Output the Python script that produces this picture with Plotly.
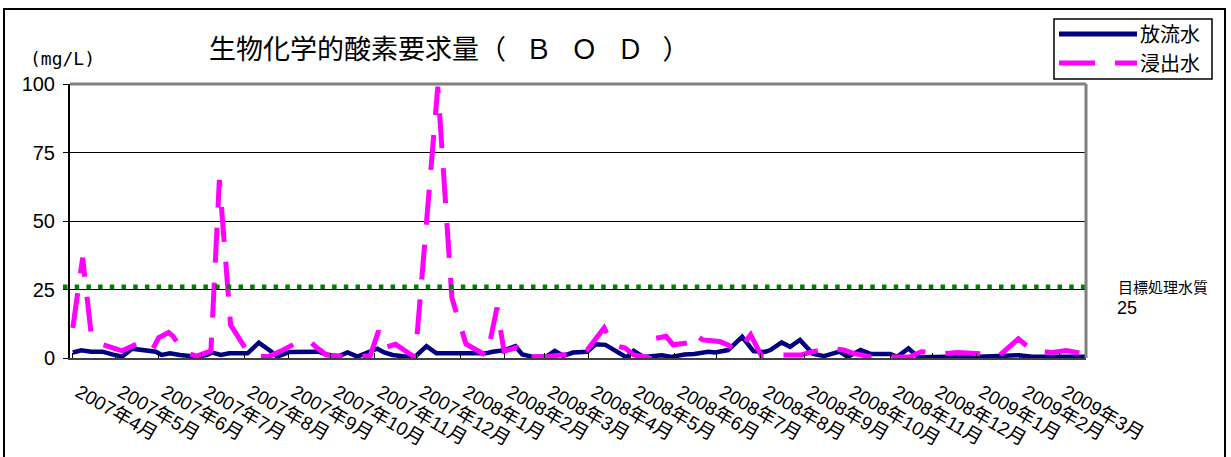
import plotly.graph_objects as go

# ---- data ----
discharge_dates = [
    "2007-04-01", "2007-04-07", "2007-04-14", "2007-04-22", "2007-04-29",
    "2007-05-06", "2007-05-13", "2007-05-23", "2007-05-30",
    "2007-06-03", "2007-06-09", "2007-06-16", "2007-06-21", "2007-06-28",
    "2007-07-05", "2007-07-09", "2007-07-15", "2007-07-21",
    "2007-08-03", "2007-08-11", "2007-08-20", "2007-08-24",
    "2007-09-02", "2007-09-16", "2007-09-22", "2007-09-28",
    "2007-10-06", "2007-10-13", "2007-10-20", "2007-10-27",
    "2007-11-03", "2007-11-08", "2007-11-14", "2007-11-24", "2007-11-30",
    "2007-12-08", "2007-12-15",
    "2008-01-19", "2008-01-24",
    "2008-02-01", "2008-02-09", "2008-02-14", "2008-02-21",
    "2008-03-02", "2008-03-08", "2008-03-14", "2008-03-21", "2008-03-31",
    "2008-04-06", "2008-04-13", "2008-04-19", "2008-04-28",
    "2008-05-03", "2008-05-10", "2008-05-23", "2008-05-30",
    "2008-06-08", "2008-06-15", "2008-06-25", "2008-06-30",
    "2008-07-09", "2008-07-19", "2008-07-27",
    "2008-08-04", "2008-08-08", "2008-08-16", "2008-08-22", "2008-08-29",
    "2008-09-07", "2008-09-15", "2008-09-26",
    "2008-10-02", "2008-10-11", "2008-10-18",
    "2008-11-01", "2008-11-06", "2008-11-14", "2008-11-21",
    "2008-12-13",
    "2009-01-03", "2009-01-31",
    "2009-02-10", "2009-02-25",
    "2009-03-20",
]
discharge_values = [
    2.0, 2.8, 2.3, 2.3, 1.3,
    0.5, 3.4, 2.8, 2.3,
    1.1, 1.7, 1.1, 0.7, 0.5,
    1.1, 2.0, 1.1, 1.7,
    1.7, 5.6, 2.3, 0.5,
    2.2, 2.0, 2.3, 1.3,
    0.5, 2.0, 0.5, 2.0,
    3.4, 2.0, 1.1, 0.5, 0.5,
    4.3, 1.7,
    1.7, 2.3,
    2.8, 4.3, 1.3, 0.5,
    0.5, 2.6, 0.8, 2.0, 2.3,
    5.0, 4.8, 2.9, 0.2,
    2.6, 0.4, 1.0, 0.4,
    1.3, 1.5, 2.3, 2.0,
    2.9, 7.7, 2.5,
    2.2, 2.9, 5.7, 4.1, 6.6,
    1.6, 0.7, 2.3,
    0.4, 2.9, 1.5,
    1.5, 0.4, 3.5, 0.3,
    0.5,
    0.5, 1.0,
    0.5, 0.5,
    0.5,
]

leachate_dates = [
    "2007-04-01", "2007-04-08", "2007-04-14", "2007-04-18",
    "2007-05-06", "2007-05-16", "2007-05-27",
    "2007-06-01", "2007-06-08", "2007-06-11", "2007-06-19", "2007-06-28",
    "2007-07-08", "2007-07-14", "2007-07-22", "2007-07-28",
    "2007-08-04", "2007-08-09", "2007-08-18", "2007-08-27",
    "2007-09-07", "2007-09-16", "2007-09-21", "2007-09-28",
    "2007-10-14", "2007-10-29",
    "2007-11-04", "2007-11-08", "2007-11-16", "2007-11-26", "2007-11-30",
    "2007-12-16", "2007-12-26",
    "2008-01-05", "2008-01-20", "2008-01-27",
    "2008-02-01", "2008-02-10", "2008-02-13",
    "2008-03-02", "2008-03-21", "2008-03-31",
    "2008-04-12", "2008-04-18", "2008-04-27",
    "2008-05-03", "2008-05-14", "2008-05-17", "2008-05-26", "2008-05-31",
    "2008-06-10", "2008-06-14", "2008-06-21",
    "2008-07-03", "2008-07-09", "2008-07-16", "2008-07-25",
    "2008-08-02", "2008-08-11", "2008-08-30",
    "2008-09-07", "2008-09-19", "2008-09-29",
    "2008-10-06", "2008-10-18",
    "2008-11-15", "2008-11-23",
    "2008-12-09", "2008-12-19",
    "2009-01-08", "2009-01-18", "2009-01-31",
    "2009-02-10", "2009-02-24",
    "2009-03-06", "2009-03-20",
]
leachate_values = [
    11.0, 36.6, 8.8, 5.6,
    2.6, 5.0, 2.6,
    7.4, 9.3, 8.0, 2.0, 0.7,
    2.6, 65.0, 12.0, 7.0,
    1.5, 0.7, 0.5, 2.6,
    5.6, 6.2, 3.8, 1.1,
    0.4, 0.8,
    9.9, 3.8, 5.0, 1.5, 0.3,
    99.0, 22.0,
    5.1, 0.7, 18.4,
    2.5, 3.8, 0.5,
    0.5, 1.6, 2.9,
    11.0, 4.8, 3.6,
    1.1, 0.1, 7.0, 7.9, 4.8,
    5.5, 9.2, 6.6,
    6.0, 4.8, 2.3, 8.5,
    0.4, 1.1, 1.1,
    2.3, 3.6, 2.9,
    1.7, 0.4,
    0.4, 2.3,
    1.6, 2.0,
    1.4, 1.1, 7.0,
    2.7, 2.0,
    2.7, 1.4,
]

series_names = ["放流水", "浸出水"]
target_label = "目標処理水質"
target_value_text = "25"
target_line_level = 26  # where the dotted target line sits in the picture
y_ticks = [0, 25, 50, 75, 100]
x_range = ["2007-03-30", "2009-03-20"]

NAVY = "#000080"
PINK = "#FF00FF"
GREEN = "#008000"
CJK = "Noto Sans CJK JP"
LAT = "Liberation Sans, Noto Sans CJK JP"

fig = go.Figure()
fig.add_trace(go.Scatter(x=discharge_dates, y=discharge_values, mode="lines",
                         name=series_names[0], line=dict(color=NAVY, width=4.5),
                         showlegend=False))
fig.add_trace(go.Scatter(x=leachate_dates, y=leachate_values, mode="lines",
                         name=series_names[1],
                         line=dict(color=PINK, width=5, dash="35px,20px"),
                         showlegend=False))

# plot area geometry (px) used to place paper-referenced decorations
W, H = 1231, 457
L, R, T, B = 70, 1086, 84, 358
pw, ph = R - L, B - T


def px(x):
    return (x - L) / pw


def py(y):
    return (B - y) / ph


shapes = [
    # target dotted line
    dict(type="line", xref="paper", yref="y", x0=px(63), x1=1.0,
         y0=target_line_level, y1=target_line_level,
         line=dict(color=GREEN, width=4.5, dash="4.5px,7.2px")),
    # gray top / right plot border
    dict(type="line", xref="paper", yref="paper", x0=0, x1=1, y0=1, y1=1,
         line=dict(color="#808080", width=3)),
    dict(type="line", xref="paper", yref="paper", x0=1, x1=1, y0=0, y1=1,
         line=dict(color="#808080", width=3)),
    # outer chart border
    dict(type="rect", xref="paper", yref="paper", x0=px(4), x1=px(1225),
         y0=py(470), y1=py(9), line=dict(color="black", width=2),
         fillcolor="rgba(0,0,0,0)"),
    # legend box
    dict(type="rect", xref="paper", yref="paper", x0=px(1054), x1=px(1212),
         y0=py(79), y1=py(19), line=dict(color="black", width=1.5),
         fillcolor="white"),
    dict(type="line", xref="paper", yref="paper", x0=px(1059), x1=px(1137),
         y0=py(34), y1=py(34), line=dict(color=NAVY, width=5)),
    dict(type="line", xref="paper", yref="paper", x0=px(1059), x1=px(1137),
         y0=py(63), y1=py(63), line=dict(color=PINK, width=5, dash="36px,20px")),
]

sp = "\u2002\u2009"
annotations = [
    dict(text="生物化学的酸素要求量（" + sp + "Ｂ" + sp + "Ｏ" + sp + "Ｄ" + sp + "）",
         xref="paper", yref="paper",
         x=px(207), y=py(48), xanchor="left", yanchor="middle", showarrow=False,
         font=dict(family=CJK, size=27, color="black")),
    dict(text="(mg/L)", xref="paper", yref="paper", x=px(62), y=py(58),
         xanchor="center", yanchor="middle", showarrow=False,
         font=dict(family="DejaVu Sans Mono", size=18, color="black")),
    dict(text=series_names[0], xref="paper", yref="paper", x=px(1138), y=py(34),
         xanchor="left", yanchor="middle", showarrow=False,
         font=dict(family=CJK, size=20, color="black")),
    dict(text=series_names[1], xref="paper", yref="paper", x=px(1138), y=py(63),
         xanchor="left", yanchor="middle", showarrow=False,
         font=dict(family=CJK, size=20, color="black")),
    dict(text=target_label, xref="paper", yref="paper", x=px(1116), y=py(286),
         xanchor="left", yanchor="middle", showarrow=False,
         font=dict(family=CJK, size=15, color="black")),
    dict(text=target_value_text, xref="paper", yref="paper", x=px(1115), y=py(308),
         xanchor="left", yanchor="middle", showarrow=False,
         font=dict(family=LAT, size=18, color="black")),
]

fig.update_layout(
    width=W, height=H,
    margin=dict(l=L, r=W - R, t=T, b=H - B, pad=0, autoexpand=False),
    paper_bgcolor="white", plot_bgcolor="white",
    showlegend=False,
    shapes=shapes, annotations=annotations,
    xaxis=dict(type="date", range=x_range, tick0="2007-04-01", dtick="M1",
               tickformat="%Y年%-m月", tickangle=30, automargin=False,
               tickfont=dict(family=LAT, size=19, color="black"),
               ticks="inside", ticklen=5, tickcolor="black",
               showgrid=False, zeroline=False,
               showline=True, linecolor="#404040", linewidth=2,
               ticklabelstandoff=14, ticklabelshift=6),
    yaxis=dict(range=[0, 100], tickvals=y_ticks, automargin=False,
               tickfont=dict(family=LAT, size=20, color="black"),
               ticks="outside", ticklen=5, tickcolor="black",
               ticklabelstandoff=4,
               showgrid=True, gridcolor="black", gridwidth=1,
               zeroline=False, showline=True, linecolor="black", linewidth=2),
)

fig.write_html("out.html", config={"displayModeBar": False},
               post_script="document.body.style.margin='0';")
